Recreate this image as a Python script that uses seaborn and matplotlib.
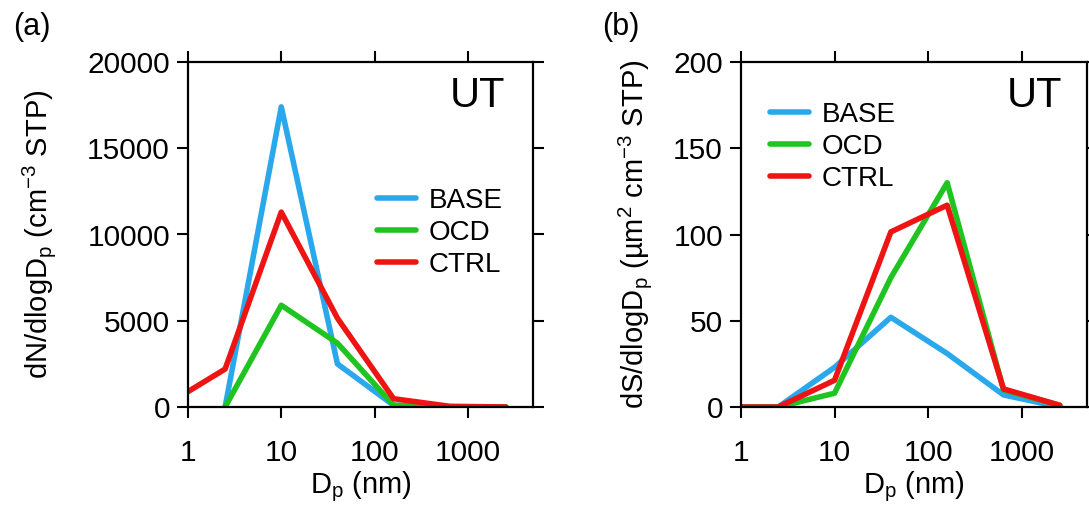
import numpy as np
import pandas as pd
import seaborn as sns
import matplotlib.pyplot as plt

# size bin centres (nm) and the three runs
dp = [0.625, 2.5, 10, 40, 160, 640, 2560]
runs = ['BASE', 'OCD', 'CTRL']

# (a) number distribution dN/dlogDp (NaN = no value in that bin)
dn_base = [np.nan, 0, 17400, 2500, 100, 0, 0]
dn_ocd = [np.nan, 0, 5900, 3700, 100, 0, 0]
dn_ctrl = [220, 2200, 11300, 5150, 480, 40, 0]

# (b) surface distribution dS/dlogDp
ds_base = [0, 0, 23, 52, 31, 7, 0]
ds_ocd = [0, 0, 8, 75, 130, 10, 1]
ds_ctrl = [0, 0, 15.5, 101.5, 117, 10.5, 1]

xticks = [1, 10, 100, 1000]
xtick_labels = ['1', '10', '100', '1000']
yticks_a = [0, 5000, 10000, 15000, 20000]
yticks_b = [0, 50, 100, 150, 200]

colors = {'BASE': '#2aa8ec', 'OCD': '#20c420', 'CTRL': '#ee1414'}

sns.set_style('ticks')
plt.rcParams['font.family'] = ['Liberation Sans', 'DejaVu Sans']
plt.rcParams['mathtext.fontset'] = 'custom'
plt.rcParams['mathtext.rm'] = 'Liberation Sans'
plt.rcParams['mathtext.it'] = 'Liberation Sans:italic'
plt.rcParams['axes.linewidth'] = 1.6
plt.rcParams['text.color'] = 'black'
plt.rcParams['axes.labelcolor'] = 'black'
plt.rcParams['xtick.color'] = 'black'
plt.rcParams['ytick.color'] = 'black'


def long_frame(series):
    rows = []
    for name, vals in zip(runs, series):
        for x, v in zip(dp, vals):
            rows.append({'Dp': x, 'val': v, 'run': name})
    return pd.DataFrame(rows).dropna()


df_a = long_frame([dn_base, dn_ocd, dn_ctrl])
df_b = long_frame([ds_base, ds_ocd, ds_ctrl])

fig = plt.figure(figsize=(10.89, 5.12), dpi=100)
ax_a = fig.add_axes([188 / 1089, 1 - 407 / 512, 345 / 1089, 345 / 512])
ax_b = fig.add_axes([741 / 1089, 1 - 407 / 512, 346 / 1089, 345 / 512])

panels = [
    (ax_a, df_a, yticks_a, 'dN/dlogD$_\\mathrm{p}$ (cm$^{-3}$ STP)', (0.548, 0.635), 0.92, 21),
    (ax_b, df_b, yticks_b, 'dS/dlogD$_\\mathrm{p}$ (µm$^{2}$ cm$^{-3}$ STP)', (0.084, 0.885), 0.928, 14),
]

for ax, df, yt, ylab, leg_pos, ut_x, lpad in panels:
    sns.lineplot(data=df, x='Dp', y='val', hue='run', hue_order=runs,
                 palette=colors, linewidth=4, sort=True, ax=ax)
    ax.set_xscale('log')
    ax.set_xlim(1, 5000)
    ax.set_ylim(yt[0], yt[-1])
    ax.set_xticks(xticks)
    ax.set_xticklabels(xtick_labels)
    ax.xaxis.set_minor_locator(plt.NullLocator())
    ax.set_yticks(yt)
    ax.tick_params(which='major', direction='out', length=8, width=1.5,
                   top=True, right=True, labelsize=21.5, color='black')
    ax.tick_params(axis='x', pad=15)
    ax.tick_params(axis='y', pad=5)
    for sp in ax.spines.values():
        sp.set_visible(True)
        sp.set_color('black')
    ax.set_xlabel('D$_\\mathrm{p}$ (nm)', fontsize=21, labelpad=2)
    ax.set_ylabel(ylab, fontsize=21, labelpad=lpad)
    ax.text(ut_x, 0.96, 'UT', transform=ax.transAxes, ha='right', va='top', fontsize=30)

    handles, labels = ax.get_legend_handles_labels()
    ax.legend(handles, labels, loc='upper left', bbox_to_anchor=leg_pos,
              frameon=False, fontsize=20, handlelength=1.4, handletextpad=0.45,
              labelspacing=0.22, borderpad=0, borderaxespad=0)

fig.text(13 / 1089, 1 - 12 / 512, '(a)', fontsize=22, ha='left', va='top')
fig.text(602 / 1089, 1 - 12 / 512, '(b)', fontsize=22, ha='left', va='top')

plt.savefig('out.png', dpi=100)
plt.close()
